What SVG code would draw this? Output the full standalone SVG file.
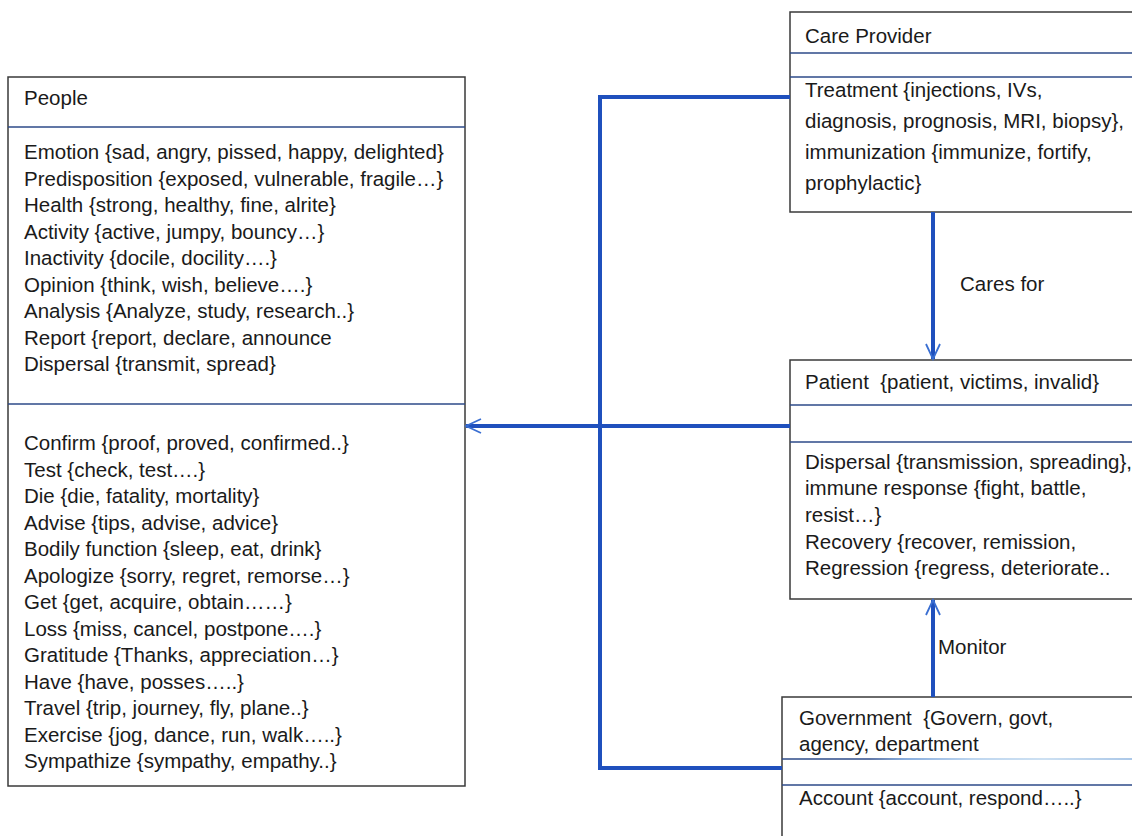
<svg xmlns="http://www.w3.org/2000/svg" width="1132" height="836" viewBox="0 0 1132 836">
<style>
.box{fill:#ffffff;stroke:#3a3a3a;stroke-width:1.5}
.div{stroke:#2c4a88;stroke-width:1.5;fill:none}
.t{font-family:"Liberation Sans",Arial,sans-serif;font-size:20.5px;fill:#1a1a1a;white-space:pre}
.conn{fill:none;stroke:#1f50bd;stroke-width:4;stroke-linejoin:miter}
</style>
<defs>
<marker id="arr" markerUnits="userSpaceOnUse" viewBox="-18 -10 20 20" markerWidth="20" markerHeight="20" refX="0" refY="0" orient="auto">
<path d="M-15,-7 L0,0 L-15,7" fill="none" stroke="#3a6fd2" stroke-width="1.8"/>
</marker>
<linearGradient id="gdiv" x1="782" y1="0" x2="1132" y2="0" gradientUnits="userSpaceOnUse">
<stop offset="0" stop-color="#2c4a88"/>
<stop offset="0.25" stop-color="#2c4a88"/>
<stop offset="0.35" stop-color="#5f8fcf"/>
<stop offset="0.55" stop-color="#a9c9ea"/>
<stop offset="0.75" stop-color="#bcd6ee"/>
<stop offset="1" stop-color="#8fb5e0"/>
</linearGradient>
</defs>
<rect width="1132" height="836" fill="#ffffff"/>

<g id="people">
<rect class="box" x="8" y="77" width="457" height="709"/>
<line class="div" x1="8" y1="127" x2="465" y2="127"/>
<line class="div" x1="8" y1="404" x2="465" y2="404"/>
<text class="t" x="24" y="105">People</text>
<text class="t" x="24" y="159">Emotion {sad, angry, pissed, happy, delighted}</text>
<text class="t" x="24" y="185.5">Predisposition {exposed, vulnerable, fragile…}</text>
<text class="t" x="24" y="212">Health {strong, healthy, fine, alrite}</text>
<text class="t" x="24" y="238.5">Activity {active, jumpy, bouncy…}</text>
<text class="t" x="24" y="265">Inactivity {docile, docility….}</text>
<text class="t" x="24" y="291.5">Opinion {think, wish, believe….}</text>
<text class="t" x="24" y="318">Analysis {Analyze, study, research..}</text>
<text class="t" x="24" y="344.5">Report {report, declare, announce</text>
<text class="t" x="24" y="371">Dispersal {transmit, spread}</text>
<text class="t" x="24" y="450">Confirm {proof, proved, confirmed..}</text>
<text class="t" x="24" y="476.5">Test {check, test….}</text>
<text class="t" x="24" y="503">Die {die, fatality, mortality}</text>
<text class="t" x="24" y="529.5">Advise {tips, advise, advice}</text>
<text class="t" x="24" y="556">Bodily function {sleep, eat, drink}</text>
<text class="t" x="24" y="582.5">Apologize {sorry, regret, remorse…}</text>
<text class="t" x="24" y="609">Get {get, acquire, obtain……}</text>
<text class="t" x="24" y="635.5">Loss {miss, cancel, postpone….}</text>
<text class="t" x="24" y="662">Gratitude {Thanks, appreciation…}</text>
<text class="t" x="24" y="688.5">Have {have, posses…..}</text>
<text class="t" x="24" y="715">Travel {trip, journey, fly, plane..}</text>
<text class="t" x="24" y="741.5">Exercise {jog, dance, run, walk…..}</text>
<text class="t" x="24" y="768">Sympathize {sympathy, empathy..}</text>
</g>

<g id="care-provider">
<rect class="box" x="790" y="12" width="360" height="200"/>
<line class="div" x1="790" y1="53" x2="1132" y2="53"/>
<line class="div" x1="790" y1="77" x2="1132" y2="77"/>
<text class="t" x="805" y="43">Care Provider</text>
<text class="t" x="805" y="97">Treatment {injections, IVs,</text>
<text class="t" x="805" y="128">diagnosis, prognosis, MRI, biopsy},</text>
<text class="t" x="805" y="159">immunization {immunize, fortify,</text>
<text class="t" x="805" y="190">prophylactic}</text>
</g>

<g id="patient">
<rect class="box" x="790" y="360" width="360" height="239"/>
<line class="div" x1="790" y1="405" x2="1132" y2="405"/>
<line class="div" x1="790" y1="442" x2="1132" y2="442"/>
<text class="t" x="805" y="389">Patient  {patient, victims, invalid}</text>
<text class="t" x="805" y="469">Dispersal {transmission, spreading},</text>
<text class="t" x="805" y="495">immune response {fight, battle,</text>
<text class="t" x="805" y="521.5">resist…}</text>
<text class="t" x="805" y="548.5">Recovery {recover, remission,</text>
<text class="t" x="805" y="574.5">Regression {regress, deteriorate..</text>
</g>

<g id="government">
<rect class="box" x="782" y="697" width="370" height="200"/>
<line x1="782" y1="759" x2="1132" y2="759" stroke="url(#gdiv)" stroke-width="1.5"/>
<line class="div" x1="782" y1="785" x2="1132" y2="785"/>
<text class="t" x="799" y="725">Government  {Govern, govt,</text>
<text class="t" x="799" y="751">agency, department</text>
<text class="t" x="799" y="805">Account {account, respond…..}</text>
</g>

<g id="connectors">
<path class="conn" d="M790,97 H600 V768 H782"/>
<path class="conn" d="M790,426 H466" marker-end="url(#arr)"/>
<path class="conn" d="M933,212 V359" marker-end="url(#arr)"/>
<path class="conn" d="M933,697 V600" marker-end="url(#arr)"/>
<text class="t" x="960" y="291">Cares for</text>
<text class="t" x="938" y="654">Monitor</text>
</g>
</svg>
